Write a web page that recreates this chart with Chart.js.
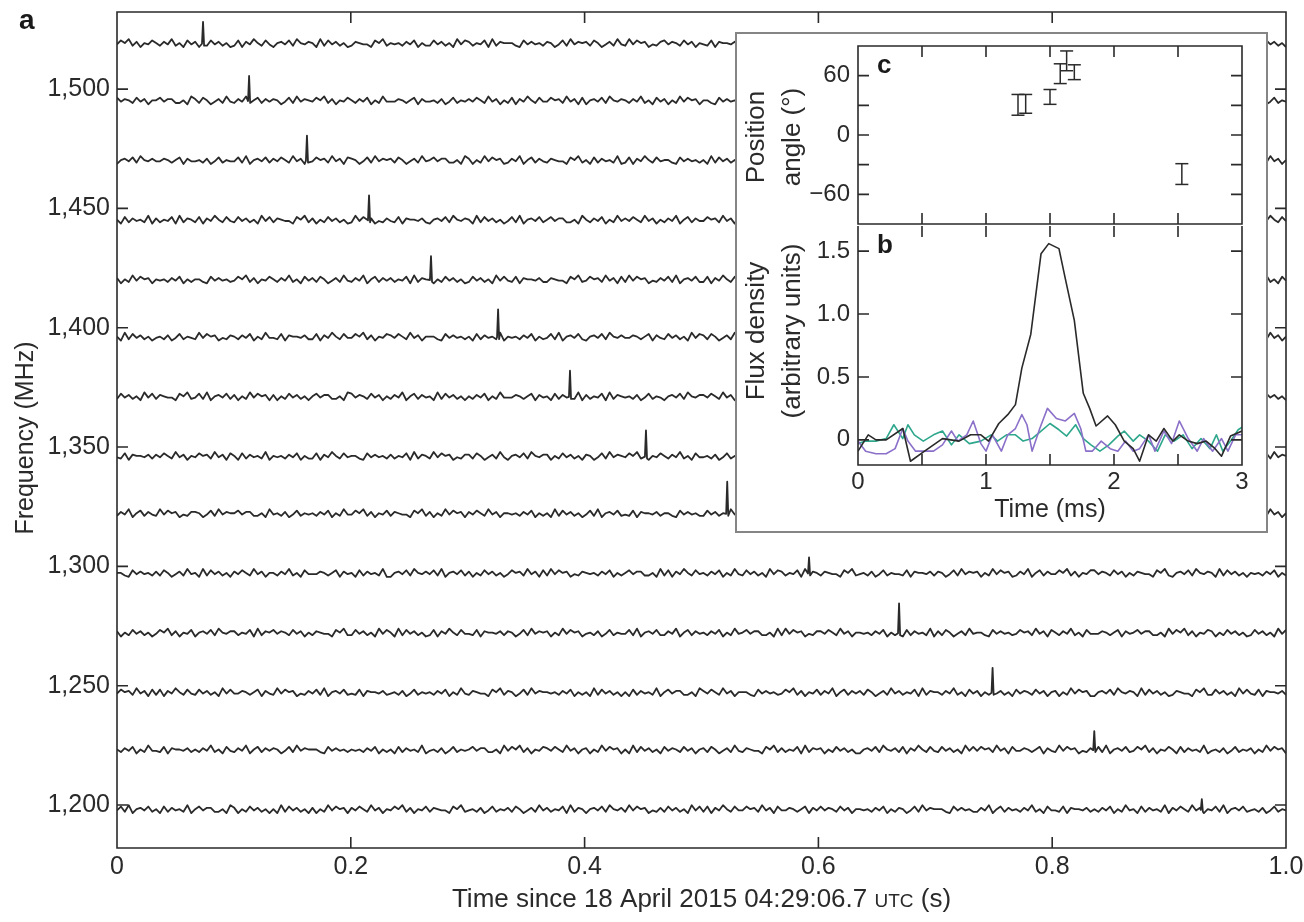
<!DOCTYPE html>
<html>
<head>
<meta charset="utf-8">
<script src="https://cdn.jsdelivr.net/npm/chart.js@4.4.1/dist/chart.umd.min.js"></script>
<style>
  html, body { margin: 0; padding: 0; background: #fff; }
  #wrap { position: relative; width: 1304px; height: 922px; overflow: hidden; }
  #chart-a { position: absolute; left: 0; top: 0; }
  #inset { position: absolute; left: 735px; top: 32px; width: 533px; height: 501px;
           background: #fff; box-shadow: inset 0 0 0 2px #858585; }
  #inset canvas { position: absolute; left: 0; }
</style>
</head>
<body>
<div id="wrap">
  <canvas id="chart-a" width="1304" height="922"></canvas>
  <div id="inset">
    <canvas id="chart-c" width="533" height="200" style="top:0"></canvas>
    <canvas id="chart-b" width="533" height="313" style="top:188px"></canvas>
  </div>
</div>
<script>
const FONT = '"Liberation Sans", Arial, Helvetica, sans-serif';
const INK = '#2a2a2a';

/* ---- panel a: one noisy trace per sub-band ---- */
const TIME_TICKS = [0, 0.2, 0.4, 0.6, 0.8, 1.0];
const FREQ_TICKS = [1200, 1250, 1300, 1350, 1400, 1450, 1500];
const TRACE_FREQS = [1198, 1223, 1247, 1272, 1297, 1322, 1346, 1371, 1396, 1420, 1445, 1470, 1495, 1519];
const PULSE_TIMES = [0.928, 0.836, 0.749, 0.669, 0.592, 0.522, 0.4525, 0.3875, 0.326, 0.2686, 0.2156, 0.1625, 0.113, 0.0736];
const PULSE_HEIGHTS = [4.5, 8, 10.5, 12.5, 6.8, 13.5, 11, 11, 11.7, 10, 10.5, 10.5, 10.5, 9.2];

// noise read as digit levels (4.5 = trace centre), in blocks of ten samples
const NOISE_STEP = 0.55; // MHz per level
const NOISE_BLOCKS = {
  a: '4536247354', b: '6253746352', c: '5453647253', d: '6475384625', e: '3746352847',
  f: '5364725384', g: '6375246384', h: '5273645382', i: '7465374625', j: '3847562436',
  k: '4758362547', l: '3648257364', m: '5283746352', n: '4756384627', o: '5364835274',
  p: '6354728365', q: '4738256473', r: '6524738465', s: '3726485374', t: '6253847562',
  u: '4465357264', v: '5532746453', w: '3654427583', x: '5746633528', y: '4372655463',
  z: '2564738546'
};
const TRACE_NOISE = [
  'qhxbmtdkwagpzjesnuicrvloyfhdqa', 'fyolrvchaxkdtmigwpbzsenujqkhat',
  'nseujqyafwrcmhxdvklgpobitzmwey', 'bkzpiwemsyrtaqlfxjdchgvnouxkbe',
  'vgmdouhzqbnjcxsfepwayrtlkiwzmc', 'ljrxafkwtdcmqyveiuhsgonpbzfajd',
  'ydnhcsvpjgzbrkoawtfximelquyhcr', 'ewqtbxilmfuhpazdjyrnkscgvoetqb',
  'majfyskdvhcqzuegobxwtnlirpamsd', 'tcvkoglpbeywnjqsarmixhfudzkvgo',
  'hpsewbjyzmqxfdlnuvckagtiorbpes', 'zuaqdnrgxtlwhsvmbyejfkcoipqzud',
  'ixglrkfuadsnzotvcqwmbhejyplxga', 'kobszmwcepvrgjiyqfahnxutldkvob'
];

/* ---- panel c: position angle ---- */
const INSET_TIME_TICKS = [0, 0.5, 1, 1.5, 2, 2.5, 3];
const INSET_TIME_LABELS = [0, 1, 2, 3];
const PA_TICKS = [-60, -30, 0, 30, 60];
const PA_LABELS = [-60, 0, 60];
const PA_TIME = [1.25, 1.31, 1.50, 1.58, 1.63, 1.69, 2.53];
const PA_LOW = [20, 22, 31, 52, 65, 56, -50];
const PA_HIGH = [41, 41, 46, 72, 85, 71, -29];

/* ---- panel b: flux density ---- */
const FLUX_TICKS = [0, 0.5, 1.0, 1.5];
const TOTAL_T = [0,0.08,0.14,0.22,0.35,0.41,0.52,0.66,0.79,0.88,0.96,1.02,1.1,1.17,1.23,1.28,1.35,1.43,1.49,1.57,1.62,1.69,1.76,1.81,1.86,1.95,2.01,2.08,2.15,2.2,2.27,2.33,2.39,2.46,2.51,2.58,2.65,2.72,2.79,2.84,2.91,3.0];
const TOTAL_V = [-0.09,0.04,0.0,0.0,0.09,-0.17,-0.09,0.01,-0.01,0.04,0.04,-0.01,0.13,0.2,0.28,0.57,0.84,1.48,1.56,1.52,1.28,0.95,0.37,0.25,0.11,0.19,0.12,-0.01,-0.07,-0.17,0.04,-0.01,0.09,-0.01,0.04,-0.01,-0.03,-0.01,-0.07,-0.13,0.03,0.07];
const LINEAR_T = [0,0.06,0.14,0.22,0.29,0.35,0.39,0.45,0.52,0.59,0.66,0.73,0.78,0.85,0.9,0.96,1.0,1.05,1.12,1.17,1.23,1.28,1.32,1.36,1.42,1.48,1.55,1.62,1.69,1.74,1.78,1.83,1.9,1.97,2.03,2.09,2.15,2.2,2.27,2.32,2.39,2.45,2.51,2.58,2.65,2.7,2.77,2.84,2.89,2.95,3.0];
const LINEAR_V = [-0.01,-0.09,-0.11,-0.11,-0.07,0.09,-0.01,-0.09,-0.09,-0.09,-0.04,0.07,-0.01,0.04,0.15,-0.03,-0.09,0.04,-0.09,0.04,0.09,0.2,0.12,-0.09,0.09,0.25,0.17,0.15,0.21,0.09,-0.09,-0.09,-0.01,-0.07,-0.09,-0.01,-0.09,-0.07,0.04,-0.09,0.07,-0.03,0.15,0.01,-0.09,0.01,-0.09,0.01,-0.09,0.04,0.04];
const CIRC_T = [0,0.06,0.14,0.22,0.28,0.35,0.39,0.44,0.51,0.59,0.66,0.73,0.79,0.87,0.96,1.04,1.09,1.16,1.23,1.29,1.36,1.43,1.5,1.57,1.63,1.7,1.76,1.82,1.89,1.96,2.03,2.08,2.15,2.2,2.27,2.34,2.4,2.47,2.54,2.61,2.68,2.75,2.8,2.85,2.91,2.97,3.0];
const CIRC_V = [-0.03,-0.01,-0.01,0.01,0.12,0.01,0.12,0.04,-0.01,0.04,0.07,-0.04,0.04,-0.03,-0.01,0.04,-0.01,0.04,0.04,-0.01,0.01,0.07,0.13,0.08,0.03,0.12,0.01,-0.04,-0.09,-0.04,0.03,0.07,-0.01,0.04,-0.01,-0.09,0.04,-0.01,0.04,-0.07,0.01,-0.07,0.04,-0.09,-0.01,0.08,0.1];

/* ---------- helpers ---------- */
const zipXY = (ts, vs) => ts.map((t, i) => ({ x: t, y: vs[i] }));
const minus = v => (v < 0 ? '\u2212' + Math.abs(v) : String(v));
const setTicks = list => scale => { scale.ticks = list.map(v => ({ value: v })); };
const fixSize = (w, h) => scale => {
  if (w !== null) scale.width = w;
  if (h !== null) scale.height = h;
  scale.paddingLeft = scale.paddingRight = scale.paddingTop = scale.paddingBottom = 0;
};

function buildTrace(k) {
  const digits = TRACE_NOISE[k].split('').map(c => NOISE_BLOCKS[c]).join('');
  const n = digits.length;
  const base = TRACE_FREQS[k];
  const tp = PULSE_TIMES[k];
  const pts = [];
  for (let i = 0; i < n; i++) {
    const x = i / (n - 1);
    if (Math.abs(x - tp) < 0.0015) continue;
    pts.push({ x, y: base + (+digits[i] - 4.5) * NOISE_STEP });
  }
  pts.push({ x: tp - 0.0009, y: base }, { x: tp, y: base + PULSE_HEIGHTS[k] }, { x: tp + 0.0009, y: base - 0.8 });
  return pts.sort((a, b) => a.x - b.x);
}

// box + inward ticks on all four sides, plus the panel letter
const framePlugin = {
  id: 'frame',
  afterDatasetsDraw(chart, args, opts) {
    const { ctx, chartArea: a, scales } = chart;
    const len = opts.tick;
    ctx.save();
    ctx.strokeStyle = INK;
    ctx.lineWidth = opts.width;
    ctx.beginPath();
    if (opts.skipTop) {
      ctx.moveTo(a.left, a.top); ctx.lineTo(a.left, a.bottom);
      ctx.lineTo(a.right, a.bottom); ctx.lineTo(a.right, a.top);
    } else {
      ctx.rect(a.left, a.top, a.right - a.left, a.bottom - a.top);
    }
    scales.x.ticks.forEach(t => {
      const px = scales.x.getPixelForValue(t.value);
      ctx.moveTo(px, a.top); ctx.lineTo(px, a.top + len);
      ctx.moveTo(px, a.bottom); ctx.lineTo(px, a.bottom - len);
    });
    scales.y.ticks.forEach(t => {
      const py = scales.y.getPixelForValue(t.value);
      ctx.moveTo(a.left, py); ctx.lineTo(a.left + len, py);
      ctx.moveTo(a.right, py); ctx.lineTo(a.right - len, py);
    });
    ctx.stroke();
    if (opts.letter) {
      ctx.font = `bold ${opts.letter.size}px ${FONT}`;
      ctx.fillStyle = '#1a1a1a';
      ctx.textBaseline = 'alphabetic';
      const x = opts.letter.abs ? opts.letter.x : a.left + opts.letter.x;
      const y = opts.letter.abs ? opts.letter.y : a.top + opts.letter.y;
      ctx.fillText(opts.letter.text, x, y);
    }
    ctx.restore();
  }
};

// rotated axis titles (one or more lines, first line leftmost)
const sideTitlePlugin = {
  id: 'sideTitle',
  afterDraw(chart, args, opts) {
    const { ctx } = chart;
    ctx.save();
    ctx.fillStyle = INK;
    ctx.font = `${opts.size}px ${FONT}`;
    ctx.textAlign = 'center';
    ctx.textBaseline = 'middle';
    ctx.translate(opts.x, opts.y);
    ctx.rotate(-Math.PI / 2);
    opts.lines.forEach((line, i) => ctx.fillText(line, 0, i * opts.gap));
    ctx.restore();
  }
};

// x title of panel a with "UTC" in small capitals
const timeTitlePlugin = {
  id: 'timeTitle',
  afterDraw(chart) {
    const { ctx, chartArea: a } = chart;
    const parts = [['Time since 18 April 2015 04:29:06.7 ', 26], ['UTC', 19], [' (s)', 26]];
    ctx.save();
    ctx.fillStyle = INK;
    ctx.textBaseline = 'alphabetic';
    let total = 0;
    parts.forEach(p => { ctx.font = `${p[1]}px ${FONT}`; total += ctx.measureText(p[0]).width; });
    let x = (a.left + a.right) / 2 - total / 2;
    parts.forEach(p => {
      ctx.font = `${p[1]}px ${FONT}`;
      ctx.fillText(p[0], x, chart.height - 15);
      x += ctx.measureText(p[0]).width;
    });
    ctx.restore();
  }
};

const baseOptions = {
  responsive: false,
  animation: false,
  events: [],
  plugins: { legend: { display: false }, tooltip: { enabled: false } }
};
const tickFont = size => ({ family: FONT, size });

/* ---------- panel a ---------- */
new Chart(document.getElementById('chart-a'), {
  type: 'line',
  data: {
    datasets: TRACE_FREQS.map((f, k) => ({
      data: buildTrace(k),
      borderColor: INK,
      borderWidth: 1.8,
      borderJoinStyle: 'round',
      pointRadius: 0,
      tension: 0
    }))
  },
  options: {
    ...baseOptions,
    layout: { padding: { left: 0, top: 12, right: 18, bottom: 0 } },
    plugins: {
      ...baseOptions.plugins,
      frame: { tick: 11, width: 1.6, letter: { text: 'a', size: 28, x: 19, y: 29, abs: true } },
      sideTitle: { lines: ['Frequency (MHz)'], size: 25, x: 26, y: 438, gap: 0 }
    },
    scales: {
      x: {
        type: 'linear', min: 0, max: 1,
        afterBuildTicks: setTicks(TIME_TICKS),
        afterFit: fixSize(null, 74),
        grid: { display: false, drawTicks: false },
        border: { display: false },
        ticks: { padding: 4, font: tickFont(25), color: INK, autoSkip: false, maxRotation: 0,
                 callback: v => (v === 0 ? '0' : v.toFixed(1)) }
      },
      y: {
        type: 'linear', min: 1182, max: 1532.3,
        afterBuildTicks: setTicks(FREQ_TICKS),
        afterFit: fixSize(117, null),
        grid: { display: false, drawTicks: false },
        border: { display: false },
        ticks: { padding: 7, font: tickFont(25), color: INK, autoSkip: false,
                 callback: v => v.toLocaleString('en-US') }
      }
    }
  },
  plugins: [framePlugin, timeTitlePlugin, sideTitlePlugin]
});

/* ---------- panel c ---------- */
new Chart(document.getElementById('chart-c'), {
  type: 'line',
  data: {
    datasets: PA_TIME.map((t, i) => ({
      data: [{ x: t, y: PA_LOW[i] }, { x: t, y: PA_HIGH[i] }],
      borderColor: INK,
      borderWidth: 1.5,
      pointStyle: 'line',
      pointRadius: 6.5,
      pointBorderWidth: 1.5,
      pointBorderColor: INK
    }))
  },
  options: {
    ...baseOptions,
    layout: { padding: { left: 0, top: 14, right: 26, bottom: 6 } },
    plugins: {
      ...baseOptions.plugins,
      frame: { tick: 11, width: 1.6, letter: { text: 'c', size: 26, x: 19, y: 27 } },
      sideTitle: { lines: ['Position', 'angle (\u00b0)'], size: 26, x: 22, y: 105, gap: 36 }
    },
    scales: {
      x: {
        type: 'linear', min: 0, max: 3,
        afterBuildTicks: setTicks(INSET_TIME_TICKS),
        afterFit: fixSize(null, 0),
        grid: { display: false, drawTicks: false },
        border: { display: false },
        ticks: { display: false }
      },
      y: {
        type: 'linear', min: -90, max: 90,
        afterBuildTicks: setTicks(PA_TICKS),
        afterFit: fixSize(123, null),
        grid: { display: false, drawTicks: false },
        border: { display: false },
        ticks: { padding: 8, font: tickFont(24), color: INK, autoSkip: false,
                 callback: v => (PA_LABELS.includes(v) ? minus(v) : '') }
      }
    }
  },
  plugins: [framePlugin, sideTitlePlugin]
});

/* ---------- panel b ---------- */
new Chart(document.getElementById('chart-b'), {
  type: 'line',
  data: {
    datasets: [
      { data: zipXY(TOTAL_T, TOTAL_V), borderColor: '#2a2a2a' },
      { data: zipXY(LINEAR_T, LINEAR_V), borderColor: '#8b70c9' },
      { data: zipXY(CIRC_T, CIRC_V), borderColor: '#2ea78c' }
    ].map(d => ({ ...d, borderWidth: 1.6, pointRadius: 0, tension: 0, borderJoinStyle: 'round' }))
  },
  options: {
    ...baseOptions,
    layout: { padding: { left: 0, top: 6, right: 26, bottom: 0 } },
    plugins: {
      ...baseOptions.plugins,
      frame: { tick: 11, width: 1.6, skipTop: true, letter: { text: 'b', size: 26, x: 19, y: 27 } },
      sideTitle: { lines: ['Flux density', '(arbitrary units)'], size: 26, x: 22, y: 111, gap: 36 }
    },
    scales: {
      x: {
        type: 'linear', min: 0, max: 3,
        afterBuildTicks: setTicks(INSET_TIME_TICKS),
        afterFit: fixSize(null, 68),
        grid: { display: false, drawTicks: false },
        border: { display: false },
        ticks: { padding: 3, font: tickFont(24), color: INK, autoSkip: false, maxRotation: 0,
                 callback: v => (INSET_TIME_LABELS.includes(v) ? String(v) : '') },
        title: { display: true, text: 'Time (ms)', color: INK, font: tickFont(25), padding: { top: 0, bottom: 8 } }
      },
      y: {
        type: 'linear', min: -0.2, max: 1.7,
        afterBuildTicks: setTicks(FLUX_TICKS),
        afterFit: fixSize(123, null),
        grid: { display: false, drawTicks: false },
        border: { display: false },
        ticks: { padding: 8, font: tickFont(24), color: INK, autoSkip: false,
                 callback: v => (v === 0 ? '0' : v.toFixed(1)) }
      }
    }
  },
  plugins: [framePlugin, sideTitlePlugin]
});
</script>
</body>
</html>
